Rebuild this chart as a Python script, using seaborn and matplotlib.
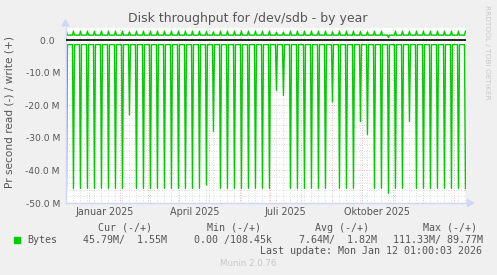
import numpy as np
import pandas as pd
import matplotlib
matplotlib.use("Agg")
import matplotlib.pyplot as plt
import matplotlib.dates as mdates
from matplotlib.ticker import FixedLocator, MultipleLocator, FuncFormatter
import seaborn as sns

# ---------------- data ----------------
start = pd.Timestamp("2024-12-08 01:00")
end = pd.Timestamp("2026-01-12 01:00")
first_spike = pd.Timestamp("2024-12-09")          # weekly read burst (Mondays)

# depth of each weekly read burst, in MB/s (drawn negative)
read_spike_M = [45.5, 45.5, 45.5, 45.5, 45.5, 45.5, 45.5, 45.5, 45.5, 23.0,
                45.5, 45.5, 45.5, 45.5, 45.5, 45.5, 45.5, 45.5, 45.5, 45.5,
                44.5, 28.0, 45.5, 45.5, 45.5, 45.5, 45.5, 45.5, 45.5, 45.5,
                15.5, 17.0, 45.5, 45.5, 45.5, 45.5, 45.5, 45.5, 19.0, 45.5,
                45.5, 45.5, 25.0, 29.0, 45.5, 45.5, 47.0, 45.5, 45.5, 25.0,
                45.5, 45.5, 45.5, 45.5, 45.5, 45.5, 45.5, 45.5]
# weekly write peaks, in MB/s
write_peak_M = [2.7, 2.7, 2.7, 2.7, 2.7, 2.7, 2.7, 2.7, 2.7, 2.5,
                2.7, 2.7, 2.7, 2.7, 2.7, 2.7, 2.7, 2.7, 2.7, 2.7,
                2.6, 2.5, 2.7, 2.7, 2.7, 2.7, 2.7, 2.7, 2.7, 2.7,
                2.4, 2.4, 2.7, 2.7, 2.7, 2.7, 2.7, 2.7, 2.5, 2.7,
                2.7, 2.7, 2.6, 2.5, 2.7, 2.7, 0.8, 2.7, 2.7, 2.6,
                2.7, 2.7, 2.7, 2.7, 2.7, 2.7, 2.7, 2.7]
read_base_M = 1.4
write_base_M = 1.5

yticks_M = [0, -10, -20, -30, -40, -50]
ytick_labels = ["0.0\u2007", "-10.0 M", "-20.0 M", "-30.0 M", "-40.0 M", "-50.0 M"]
xlabel_text = ["Januar 2025", "April 2025", "Juli 2025", "Oktober 2025"]
xlabel_dates = ["2025-01-16", "2025-04-16", "2025-07-16", "2025-10-16"]

legend_heads = ["Cur (-/+)", "Min (-/+)", "Avg (-/+)", "Max (-/+)"]
legend_vals = ["45.79M/  1.55M", "0.00 /108.45k", "7.64M/  1.82M", "111.33M/ 89.77M"]

# ---------------- build daily series ----------------
days = pd.date_range("2024-12-08", "2026-01-12", freq="D")
read = np.full(len(days), read_base_M)
write = np.full(len(days), write_base_M)
spike_days = pd.date_range(first_spike, periods=len(read_spike_M), freq="7D")
idx = days.get_indexer(spike_days)
read[idx] = read_spike_M
write[idx] = write_peak_M
df = pd.DataFrame({"date": days, "read": -read * 1e6, "write": write * 1e6})

# ---------------- figure ----------------
W, H = 497, 275
fig = plt.figure(figsize=(W / 100, H / 100), dpi=100)
fig.patch.set_facecolor("#F0F0F0")
L, R, T, B = 65.5, 465.5, 28, 203
ax = fig.add_axes([L / W, 1 - B / H, (R - L) / W, (B - T) / H])
ax.set_facecolor("white")

green = "#00CC00"
sns.lineplot(data=df, x="date", y="read", ax=ax, color=green, lw=1.0, legend=False)
sns.lineplot(data=df, x="date", y="write", ax=ax, color=green, lw=1.0, legend=False)
ax.axhline(0, color="black", lw=1.2, zorder=3)

ax.set_xlim(start, end)
ax.set_ylim(-50e6, 3.7e6)

# grids
ax.xaxis.set_major_locator(mdates.MonthLocator())
ax.xaxis.set_minor_locator(mdates.WeekdayLocator(byweekday=mdates.MO))
ax.yaxis.set_major_locator(FixedLocator([v * 1e6 for v in yticks_M]))
ax.yaxis.set_minor_locator(MultipleLocator(2e6))
ax.grid(which="major", axis="both", color="#E8A0A0", lw=0.6, ls=(0, (1, 2)), zorder=0)
ax.grid(which="minor", axis="both", color="#D2D2D2", lw=0.6, ls=(0, (1, 2)), zorder=0)
ax.set_axisbelow(True)

ax.set_yticklabels(ytick_labels)
ax.tick_params(axis="y", which="both", length=0, pad=4, labelsize=6.6, labelcolor="#555555")
ax.tick_params(axis="x", which="both", length=0, labelbottom=False)
ax.set_xlabel("")
ax.set_ylabel("")

for s in ["top", "right"]:
    ax.spines[s].set_visible(False)
for s in ["left", "bottom"]:
    ax.spines[s].set_color("#CFD6F8")
    ax.spines[s].set_linewidth(1.0)

# axis arrows
fig.patches.append(plt.Polygon([[(R + 2) / W, 1 - (B - 3.5) / H], [(R + 2) / W, 1 - (B + 3.5) / H],
                                [(R + 8) / W, 1 - B / H]], closed=True, color="#CFD6F8",
                               transform=fig.transFigure))
fig.patches.append(plt.Polygon([[(L - 3.5) / W, 1 - (T - 2) / H], [(L + 3.5) / W, 1 - (T - 2) / H],
                                [L / W, 1 - (T - 8) / H]], closed=True, color="#CFD6F8",
                               transform=fig.transFigure))

# x labels
for txt, d in zip(xlabel_text, xlabel_dates):
    ax.text(pd.Timestamp(d), -0.05, txt, transform=ax.get_xaxis_transform(),
            ha="center", va="center", fontsize=6.9, color="#555555")

def ftext(x, y, s, **kw):
    fig.text(x / W, 1 - y / H, s, **kw)

ftext(248, 18.5, "Disk throughput for /dev/sdb - by year", ha="center", va="center",
      fontsize=9.0, color="#555555")
ftext(10, 112, "Pr second read (-) / write (+)", ha="center", va="center", rotation=90,
      fontsize=7.6, color="#555555")
ftext(487, 5, "RRDTOOL / TOBI OETIKER", ha="center", va="top", rotation=270,
      fontsize=5.3, color="#C8C8C8")

mono = dict(family="DejaVu Sans Mono", fontsize=7.2, color="#555555", va="center")
head_x = [98, 207, 315, 423]
val_x = [83, 194, 299, 393]
for hx, h in zip(head_x, legend_heads):
    ftext(hx, 228, h, ha="left", **mono)
ftext(27, 240, "Bytes", ha="left", **mono)
for vx, v in zip(val_x, legend_vals):
    ftext(vx, 240, v, ha="left", **mono)
ftext(482, 251.5, "Last update: Mon Jan 12 01:00:03 2026", ha="right", **mono)
fig.patches.append(plt.Rectangle((14 / W, 1 - 243 / H), 5.5 / W, 6 / H, color=green,
                                 transform=fig.transFigure))
ftext(248, 264, "Munin 2.0.76", ha="center", va="center", fontsize=6.2, color="#C8C8C8")

fig.savefig("out.png", dpi=100, facecolor=fig.get_facecolor())
